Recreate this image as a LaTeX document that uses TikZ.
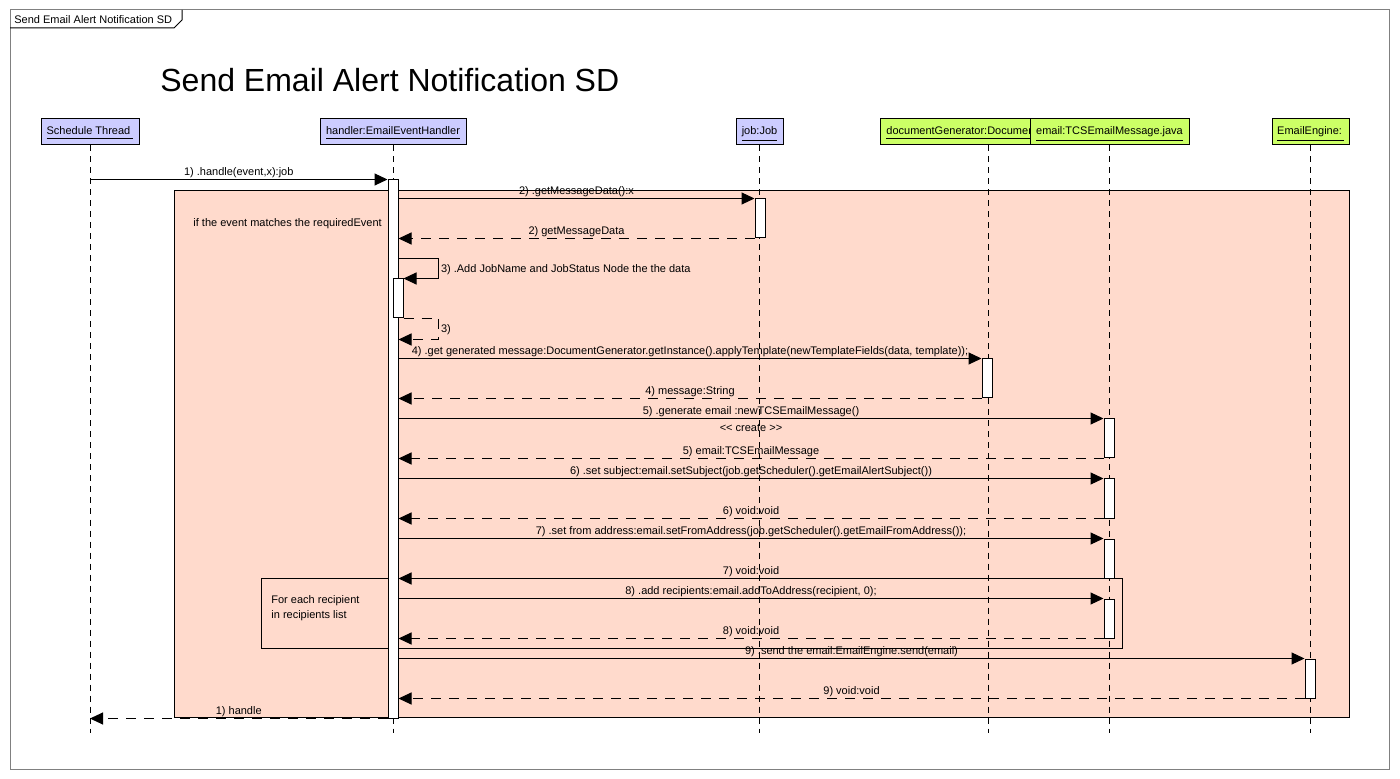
\documentclass[tikz,border=0pt]{standalone}
\usepackage{fontspec}
\setmainfont{Liberation Sans}
\usetikzlibrary{arrows.meta,fit,calc}
\definecolor{headblue}{RGB}{204,204,255}
\definecolor{headgreen}{RGB}{204,255,102}
\definecolor{fragpink}{RGB}{255,218,204}
\definecolor{framegray}{RGB}{128,128,128}
\newcommand\smallfont{\fontsize{5.5}{6.6}\selectfont}
\begin{document}
\begin{tikzpicture}[x=0.5pt,y=-0.5pt,
  every node/.style={font=\smallfont},
  headbox/.style={draw, line width=0.5pt, inner sep=0pt},
  headtext/.style={anchor=base, inner sep=0pt},
  actbar/.style={draw, fill=white, line width=0.5pt, inner sep=0pt},
  lifeline/.style={line width=0.5pt, dash pattern=on 3pt off 2.5pt},
  callmsg/.style={line width=0.5pt, -{Triangle[length=6.5pt,width=6pt]}},
  retmsg/.style={line width=0.5pt, dash pattern=on 5pt off 4pt, -{Triangle[length=6.5pt,width=6pt]}},
  msglabel/.style={midway, anchor=base, yshift=2pt, inner sep=0pt},
  fragbox/.style={draw, line width=0.5pt, inner sep=0pt},
  plaintext/.style={anchor=base west, inner sep=0pt},
]
\useasboundingbox (0,0) rectangle (1400,779);
% outer frame
\draw[framegray, line width=0.5pt] (10,10) rectangle (1389,769);
\draw[line width=0.5pt] (10,28) -- (174,28) -- (182,20) -- (182,10);
\node[plaintext] (sdlabel) at (14,24) {Send Email Alert Notification SD};
\node[plaintext, font=\fontsize{16}{19}\selectfont] (title) at (160,92) {Send Email Alert Notification SD};
% combined fragment
\node[fragbox, fill=fragpink, fit={(174,191)(1349,717)}] (ifbox) {};
\node[plaintext] (ifcond) at (193,227) {if the event matches the requiredEvent};
% lifeline heads
\node[headbox, fill=headblue, fit={(41,119)(139,145)}] (st) {};
\node[headtext] (stT) at (90,135) {\underline{Schedule Thread\ }};
\node[headbox, fill=headblue, fit={(320,119)(466,145)}] (h) {};
\node[headtext] (hT) at (393,135) {\underline{handler:EmailEventHandler}};
\node[headbox, fill=headblue, fit={(736,119)(783,145)}] (job) {};
\node[headtext] (jobT) at (759.5,135) {\underline{job:Job}};
\node[headbox, fill=headgreen, fit={(880,119)(1096,145)}] (dg) {};
\node[headtext, anchor=base west] (dgT) at (886,135) {\underline{documentGenerator:Documen}};
\node[headbox, fill=headgreen, fit={(1030,119)(1189,145)}] (em) {};
\node[headtext] (emT) at (1109.5,135) {\underline{email:TCSEmailMessage.java}};
\node[headbox, fill=headgreen, fit={(1272,119)(1349,145)}] (ee) {};
\node[headtext] (eeT) at (1310.5,135) {\underline{EmailEngine:\,}};
% lifelines
\coordinate (llend) at (0,733);
\draw[lifeline] (st.south) -- (st.south |- llend);
\draw[lifeline] (h.south) -- (h.south |- llend);
\draw[lifeline] (job.south) -- (job.south |- llend);
\draw[lifeline] (dg.south) -- (dg.south |- llend);
\draw[lifeline] (em.south) -- (em.south |- llend);
\draw[lifeline] (ee.south) -- (ee.south |- llend);
% loop fragment
\node[fragbox, fit={(261,578)(1122,648)}] (loopbox) {};
\node[plaintext] (loop1) at (271,603) {For each recipient};
\node[plaintext] (loop2) at (271,618) {in recipients list};
% activation bars
\node[actbar, fit={(388,180)(398,718)}] (hB) {};
\node[actbar, fit={(755,199)(765,238)}] (jB) {};
\node[actbar, fit={(393,279)(403,318)}] (sB) {};
\node[actbar, fit={(982,359)(992,398)}] (dB) {};
\node[actbar, fit={(1104,419)(1114,458)}] (eA) {};
\node[actbar, fit={(1104,479)(1114,518)}] (eB) {};
\node[actbar, fit={(1104,539)(1114,578)}] (eC) {};
\node[actbar, fit={(1104,599)(1114,638)}] (eD) {};
\node[actbar, fit={(1305,659)(1315,698)}] (eeB) {};
% messages
\draw[callmsg] (st.south |- hB.north) -- node[msglabel]{1) .handle(event,x):job} (hB.north west);
\draw[retmsg] (hB.south west) -- node[msglabel]{1) handle} (st.south |- hB.south);
\draw[callmsg] (hB.east |- jB.north) -- node[msglabel]{2) .getMessageData():x} (jB.north west);
\draw[retmsg] (jB.south west) -- node[msglabel]{2) getMessageData} (hB.east |- jB.south);
\draw[callmsg] ($(hB.east |- sB.north)+(0,-20)$) -- ++(40,0) |- node[pos=0.25, anchor=base west, yshift=-2pt, inner sep=1pt]{3) .Add JobName and JobStatus Node the the data} (sB.north east);
\draw[retmsg] (sB.south east) -- ++(35,0) |- node[pos=0.25, anchor=base west, yshift=-2pt, inner sep=1pt]{3)} ($(hB.east |- sB.south)+(0,21)$);
\draw[callmsg] (hB.east |- dB.north) -- node[msglabel]{4) .get generated message:DocumentGenerator.getInstance().applyTemplate(newTemplateFields(data, template));} (dB.north west);
\draw[retmsg] (dB.south west) -- node[msglabel]{4) message:String} (hB.east |- dB.south);
\draw[callmsg] (hB.east |- eA.north) -- node[msglabel]{5) .generate email :newTCSEmailMessage()} node[midway, anchor=base, yshift=-6.5pt, inner sep=0pt]{<{}< create >{}>} (eA.north west);
\draw[retmsg] (eA.south west) -- node[msglabel]{5) email:TCSEmailMessage} (hB.east |- eA.south);
\draw[callmsg] (hB.east |- eB.north) -- node[msglabel]{6) .set subject:email.setSubject(job.getScheduler().getEmailAlertSubject())} (eB.north west);
\draw[retmsg] (eB.south west) -- node[msglabel]{6) void:void} (hB.east |- eB.south);
\draw[callmsg] (hB.east |- eC.north) -- node[msglabel]{7) .set from address:email.setFromAddress(job.getScheduler().getEmailFromAddress());} (eC.north west);
\draw[retmsg] (eC.south west) -- node[msglabel]{7) void:void} (hB.east |- eC.south);
\draw[callmsg] (hB.east |- eD.north) -- node[msglabel]{8) .add recipients:email.addToAddress(recipient, 0);} (eD.north west);
\draw[retmsg] (eD.south west) -- node[msglabel]{8) void:void} (hB.east |- eD.south);
\draw[callmsg] (hB.east |- eeB.north) -- node[msglabel]{9) .send the email:EmailEngine.send(email)} (eeB.north west);
\draw[retmsg] (eeB.south west) -- node[msglabel]{9) void:void} (hB.east |- eeB.south);
\end{tikzpicture}
\end{document}
